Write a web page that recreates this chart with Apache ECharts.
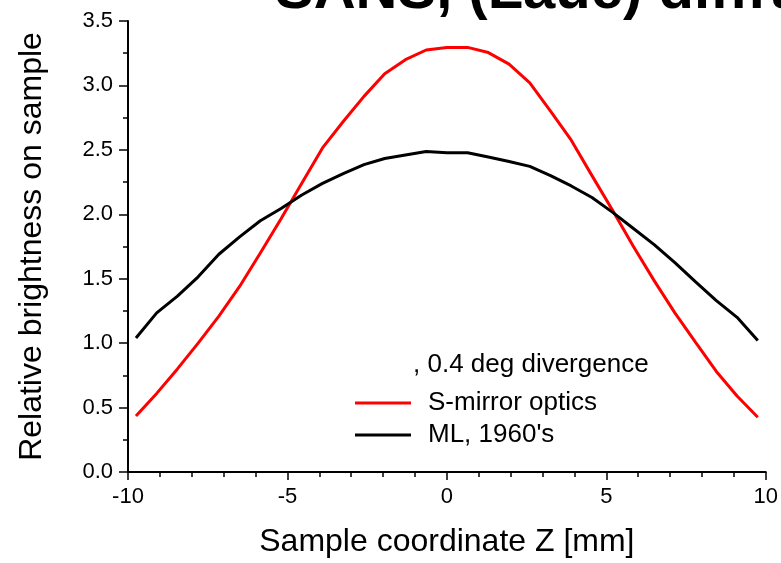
<!DOCTYPE html>
<html>
<head>
<meta charset="utf-8">
<script src="https://cdn.jsdelivr.net/npm/echarts@6/dist/echarts.min.js"></script>
<style>
html,body{margin:0;padding:0;background:#fff;}
#c{width:781px;height:563px;}
</style>
</head>
<body>
<div id="c"></div>
<script>
const zValues = [-9.75, -9.10, -8.45, -7.80, -7.15, -6.50, -5.85, -5.20, -4.55, -3.90, -3.25, -2.60, -1.95, -1.30, -0.65, 0.00, 0.65, 1.30, 1.95, 2.60, 3.25, 3.90, 4.55, 5.20, 5.85, 6.50, 7.15, 7.80, 8.45, 9.10, 9.75];
const sMirror = [0.435, 0.61, 0.80, 1.00, 1.21, 1.44, 1.70, 1.965, 2.24, 2.515, 2.72, 2.915, 3.09, 3.20, 3.275, 3.295, 3.295, 3.255, 3.165, 3.02, 2.80, 2.575, 2.30, 2.03, 1.75, 1.485, 1.235, 1.006, 0.78, 0.59, 0.425];
const ml1960 = [1.04, 1.235, 1.365, 1.515, 1.69, 1.825, 1.95, 2.045, 2.15, 2.24, 2.315, 2.385, 2.433, 2.46, 2.487, 2.478, 2.478, 2.445, 2.41, 2.372, 2.30, 2.22, 2.13, 2.015, 1.89, 1.765, 1.625, 1.475, 1.33, 1.20, 1.02];
const seriesNames = ['S-mirror optics', "ML, 1960's"];
const titleText = 'SANS, (Laue) diffraction';
const legendHeader = ', 0.4 deg divergence';
const xAxisName = 'Sample coordinate Z [mm]';
const yAxisName = 'Relative brightness on sample';

const FONT = "'Liberation Sans', Arial, sans-serif";
const chart = echarts.init(document.getElementById('c'), null, {renderer: 'canvas'});
const pair = arr => zValues.map((z, i) => [z, arr[i]]);

chart.setOption({
  animation: false,
  backgroundColor: '#ffffff',
  grid: {left: 128, right: 15, top: 21, bottom: 85, containLabel: false},
  xAxis: {
    type: 'value', min: -10, max: 10, interval: 5,
    name: xAxisName, nameLocation: 'middle', nameGap: 54,
    nameTextStyle: {fontFamily: FONT, fontSize: 32, color: '#000'},
    axisLine: {show: true, onZero: false, lineStyle: {color: '#000', width: 2}},
    axisTick: {show: true, inside: false, length: 8, lineStyle: {color: '#000', width: 1.5}},
    minorTick: {show: true, splitNumber: 5, length: 5, lineStyle: {color: '#000', width: 1.5}},
    axisLabel: {fontFamily: FONT, fontSize: 22, color: '#000', margin: 14},
    splitLine: {show: false}
  },
  yAxis: {
    type: 'value', min: 0, max: 3.5, interval: 0.5,
    name: yAxisName, nameLocation: 'middle', nameGap: 80,
    nameTextStyle: {fontFamily: FONT, fontSize: 32, color: '#000'},
    axisLine: {show: true, onZero: false, lineStyle: {color: '#000', width: 2}},
    axisTick: {show: true, inside: false, length: 9, lineStyle: {color: '#000', width: 1.5}},
    minorTick: {show: true, splitNumber: 2, length: 5, lineStyle: {color: '#000', width: 1.5}},
    axisLabel: {fontFamily: FONT, fontSize: 22, color: '#000', margin: 15, formatter: v => v.toFixed(1)},
    splitLine: {show: false}
  },
  legend: {
    orient: 'vertical', left: 350, top: 382, itemGap: 0,
    itemWidth: 56, itemHeight: 3, icon: 'rect',
    textStyle: {fontFamily: FONT, fontSize: 26, color: '#000', lineHeight: 32, padding: [0, 0, 0, 12]},
    data: seriesNames
  },
  graphic: [
    {type: 'text', left: 275, top: -37, z: 10,
     style: {text: titleText, font: "bold 58px " + FONT, fill: '#000'}},
    {type: 'text', left: 413, top: 352, z: 10,
     style: {text: legendHeader, font: "26px " + FONT, fill: '#000'}}
  ],
  series: [
    {name: seriesNames[0], type: 'line', data: pair(sMirror), showSymbol: false, symbol: 'none',
     lineStyle: {color: '#ff0000', width: 3}, itemStyle: {color: '#ff0000'}},
    {name: seriesNames[1], type: 'line', data: pair(ml1960), showSymbol: false, symbol: 'none',
     lineStyle: {color: '#000000', width: 3}, itemStyle: {color: '#000000'}}
  ]
});
</script>
</body>
</html>
